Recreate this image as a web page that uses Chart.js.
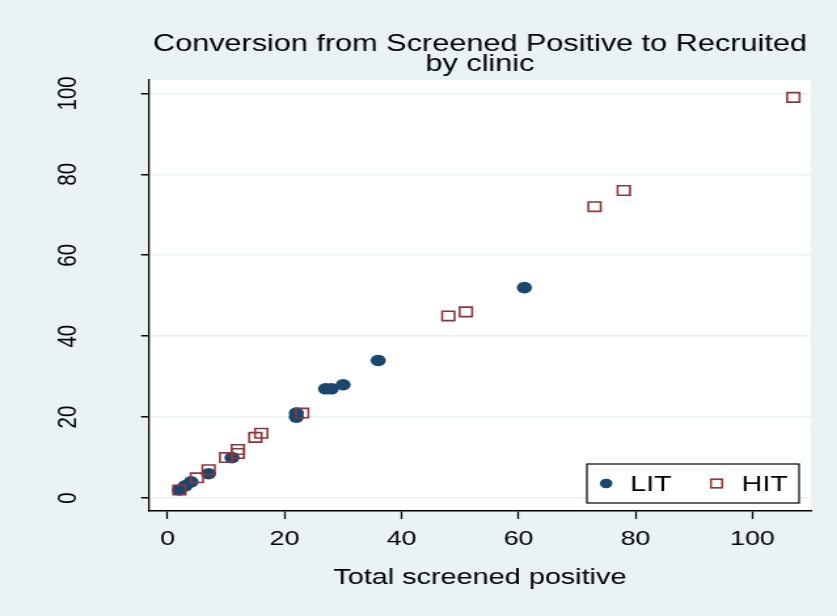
<!DOCTYPE html>
<html>
<head>
<meta charset="utf-8">
<script src="https://cdn.jsdelivr.net/npm/chart.js@4.4.0/dist/chart.umd.min.js"></script>
<style>
  html, body { margin: 0; padding: 0; background: #eaf2f3; overflow: hidden; }
  /* the original picture is stretched sideways, so stretch the canvas the same way */
  #wrap { width: 639px; height: 616px; transform: scaleX(1.31); transform-origin: 0 0; }
</style>
</head>
<body>
<div id="wrap"><canvas id="chart" width="639" height="616"></canvas></div>
<script>
// values
var titleLines = ['Conversion from Screened Positive to Recruited', 'by clinic'];
var xTitle = 'Total screened positive';
var seriesNames = ['LIT', 'HIT'];

var litX = [2, 3, 4, 7, 11, 22, 22, 27, 28, 30, 36, 61];
var litY = [2, 3, 4, 6, 10, 20, 21, 27, 27, 28, 34, 52];

var hitX = [2, 5, 7, 10, 12, 12, 15, 16, 23, 48, 51, 73, 78, 107];
var hitY = [2, 5, 7, 10, 11, 12, 15, 16, 21, 45, 46, 72, 76, 99];

var xTicks = [0, 20, 40, 60, 80, 100];
var yTicks = [0, 20, 40, 60, 80, 100];

var navy = '#1a476f';
var maroon = '#90353b';
var bg = '#eaf2f3';

function toPoints(xs, ys) {
    return xs.map(function (x, i) { return { x: x, y: ys[i] }; });
}

Chart.defaults.font.family = '"Liberation Sans", Arial, sans-serif';
Chart.defaults.color = '#000';

// white plot region
var plotBg = {
    id: 'plotBg',
    beforeDraw: function (chart) {
        var a = chart.chartArea, ctx = chart.ctx;
        ctx.save();
        ctx.fillStyle = '#fff';
        ctx.fillRect(a.left, a.top, a.right - a.left, a.bottom - a.top);
        ctx.restore();
    }
};

// legend box sitting inside the plot, bottom right
var boxLegend = {
    id: 'boxLegend',
    afterDraw: function (chart) {
        var a = chart.chartArea, ctx = chart.ctx;
        var w = 162, h = 39;
        var x0 = a.right - 9 - w, y0 = a.bottom - 8 - h, cy = y0 + h / 2;
        ctx.save();
        ctx.fillStyle = '#fff';
        ctx.fillRect(x0, y0, w, h);
        ctx.strokeStyle = '#000';
        ctx.lineWidth = 1.2;
        ctx.strokeRect(x0, y0, w, h);

        // LIT
        ctx.fillStyle = navy;
        ctx.beginPath();
        ctx.arc(x0 + 14.7, cy, 4.8, 0, Math.PI * 2);
        ctx.fill();
        // HIT
        ctx.strokeStyle = maroon;
        ctx.lineWidth = 1.6;
        ctx.strokeRect(x0 + 99 - 4.3, cy - 4.3, 8.6, 8.6);

        ctx.fillStyle = '#000';
        ctx.font = '22px "Liberation Sans", Arial, sans-serif';
        ctx.textBaseline = 'middle';
        ctx.fillText(seriesNames[0], x0 + 33, cy + 1);
        ctx.fillText(seriesNames[1], x0 + 118, cy + 1);
        ctx.restore();
    }
};

var ctx = document.getElementById('chart').getContext('2d');
var chart = new Chart(ctx, {
    type: 'scatter',
    data: {
        datasets: [{
            label: seriesNames[0],
            data: toPoints(litX, litY),
            pointStyle: 'circle',
            pointRadius: 5.8,
            backgroundColor: navy,
            borderColor: navy,
            borderWidth: 0,
            order: 1
        }, {
            label: seriesNames[1],
            data: toPoints(hitX, hitY),
            pointStyle: 'rect',
            pointRadius: 6.7,
            backgroundColor: 'rgba(0,0,0,0)',
            borderColor: maroon,
            borderWidth: 1.6,
            order: 0
        }]
    },
    options: {
        responsive: false,
        animation: false,
        layout: { padding: { left: 0, right: 20, top: 0, bottom: 0 } },
        plugins: {
            legend: { display: false },
            tooltip: { enabled: false },
            title: {
                display: true,
                text: titleLines,
                fullSize: false,
                color: '#000',
                font: { size: 23.4, weight: 'normal', lineHeight: '20px' },
                padding: { top: 34.5, bottom: 5.5 }
            }
        },
        scales: {
            x: {
                type: 'linear',
                min: -3.2,
                max: 110,
                afterBuildTicks: function (s) { s.ticks = xTicks.map(function (v) { return { value: v }; }); },
                afterFit: function (s) { s.height = 105; },
                grid: { display: true, drawOnChartArea: false, drawTicks: true, tickLength: 8, tickColor: '#000', tickWidth: 1.3 },
                border: { display: true, color: '#000', width: 1.5 },
                ticks: { color: '#000', font: { size: 20.5 }, padding: 8, maxRotation: 0, autoSkip: false },
                title: { display: true, text: xTitle, color: '#000', font: { size: 22 }, padding: { top: 0, bottom: 24.8 } }
            },
            y: {
                type: 'linear',
                min: -3.2,
                max: 103.3,
                afterBuildTicks: function (s) { s.ticks = yTicks.map(function (v) { return { value: v }; }); },
                afterFit: function (s) { s.width = 113.7; },
                grid: { display: true, color: bg, lineWidth: 1.5, drawTicks: true, tickLength: 6, tickColor: '#000', tickWidth: 1.5 },
                border: { display: true, color: '#000', width: 1.3 },
                ticks: { color: '#000', font: { size: 20.5 }, padding: 38, minRotation: 90, maxRotation: 90, crossAlign: 'center', autoSkip: false }
            }
        }
    },
    plugins: [plotBg, boxLegend]
});
</script>
</body>
</html>
